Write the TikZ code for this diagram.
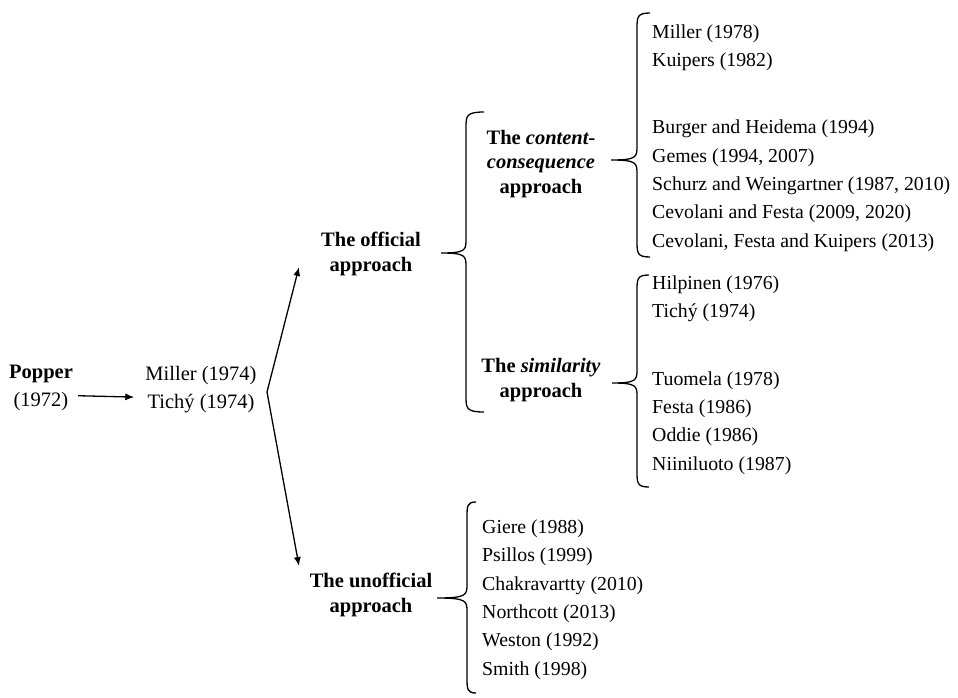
\documentclass[tikz,border=0pt]{standalone}
\usepackage{fontspec}
\setmainfont{Liberation Serif}
\usetikzlibrary{arrows.meta,positioning}

% left curly brace: ends x, line x, top y, bottom y, tip x, tip y
\newcommand{\curlybrace}[6]{%
  \draw[brc] (#1,#3) .. controls (#2,#3) and (#2,#3+4) .. (#2,#3+16)
    -- (#2,#6-14) .. controls (#2,#6-3) and (#2,#6) .. (#5,#6)
    .. controls (#2,#6) and (#2,#6+3) .. (#2,#6+14)
    -- (#2,#4-16) .. controls (#2,#4-4) and (#2,#4) .. (#1,#4);}

\begin{document}
\begin{tikzpicture}[% y runs downwards, one unit is one pixel of the layout
      x=1pt,y=-1pt,
      every node/.style={inner sep=0pt},
      lbl/.style={font=\fontsize{20.5}{24.5}\selectfont\bfseries,
        align=center, anchor=base},
      refs/.style={font=\fontsize{19.8}{28.3}\selectfont,
        align=left, anchor=base west},
      arr/.style={->, >={Latex[length=9pt,width=7pt]}, line width=1.3pt},
      brc/.style={line width=1.3pt}
    ]
    \useasboundingbox (0,0) rectangle (958,697);

    % base anchor sits on the last line
    \node[lbl,font=\fontsize{20.5}{27.5}\selectfont\bfseries](popper) at (41,406){Popper\\\mdseries (1972)};
    \node[lbl,font=\fontsize{20.5}{28}\selectfont\mdseries](early) at (201,408){Miller (1974)\\Tichý (1974)};
    \draw[arr] ([shift={(5pt,-8pt)}]popper.east) -- ([shift={(-11pt,-8pt)}]early.west);

    \coordinate (split) at (267,392);
    \coordinate (uptip) at (299,267);
    \coordinate (downtip) at (299,566);
    \draw[arr] (split) -- (uptip);
    \draw[arr] (split) -- (downtip);

    \node[lbl](official) at (371,271){The official\\approach};
    \node[lbl](unofficial) at (371,612){The unofficial\\approach};

    \curlybrace{484}{466}{112}{412}{441}{253}
    \node[lbl](content) at (541,193){The \textit{content-}\\\textit{consequence}\\approach};
    \node[lbl](similarity) at (541,397){The \textit{similarity}\\approach};

    \curlybrace{650}{637}{13}{257}{611}{160}
    \node[refs](contentrefs) at (652,247){Miller (1978)\\Kuipers (1982)\\[39pt]
      Burger and Heidema (1994)\\Gemes (1994, 2007)\\
      Schurz and Weingartner (1987, 2010)\\Cevolani and Festa (2009, 2020)\\
      Cevolani, Festa and Kuipers (2013)};

    \curlybrace{649}{637}{275}{487}{612}{383}
    \node[refs](similarityrefs) at (652,470){Hilpinen (1976)\\Tichý (1974)\\[39pt]
      Tuomela (1978)\\Festa (1986)\\Oddie (1986)\\Niiniluoto (1987)};

    \curlybrace{476}{467}{502}{693}{437}{598}
    \node[refs](unofficialrefs) at (482,675){Giere (1988)\\Psillos (1999)\\
      Chakravartty (2010)\\Northcott (2013)\\Weston (1992)\\Smith (1998)};
  \end{tikzpicture}
\end{document}
